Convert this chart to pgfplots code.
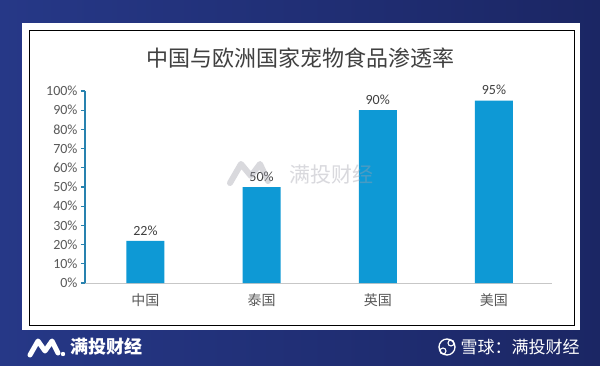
\documentclass[border=0pt]{standalone}
\usepackage{pgfplots}
\pgfplotsset{compat=1.18}
\usepackage{fontspec}
\setmainfont{Carlito}
\newfontfamily\cjk{Noto Sans CJK SC}
\definecolor{bgnavy}{RGB}{27,38,100}
\definecolor{bgnavyl}{RGB}{38,56,135}
\definecolor{barblue}{RGB}{14,153,213}
\definecolor{yaxblue}{RGB}{40,130,175}
\definecolor{txtgray}{RGB}{89,89,89}
\definecolor{wmgray}{RGB}{160,160,172}
\begin{document}
\begin{tikzpicture}[x=1pt,y=1pt]
\shade[left color=bgnavyl,right color=bgnavy] (0,0) rectangle (600,365);
\fill[white] (22,35) rectangle (580,342);
\draw[black,line width=0.8pt] (29,40) rectangle (574,335);
\node[font=\cjk\fontsize{22}{24}\selectfont,text=black!75] at (300,307) {中国与欧洲国家宠物食品渗透率};
\begin{axis}[
  at={(85pt,82pt)}, anchor=south west,
  scale only axis, width=467pt, height=192pt,
  ybar, bar width=38pt,
  ymin=0, ymax=1, xmin=-0.52, xmax=3.5,
  axis y line=left, axis x line=bottom,
  x axis line style={draw=black!22,-},
  y axis line style={draw=yaxblue,line width=1.5pt,-},
  ytick={0,0.1,0.2,0.3,0.4,0.5,0.6,0.7,0.8,0.9,1},
  yticklabels={0\%,10\%,20\%,30\%,40\%,50\%,60\%,70\%,80\%,90\%,100\%},
  yticklabel style={font=\fontsize{14}{15}\selectfont,text=txtgray},
  ytick style={draw=yaxblue,line width=1.2pt},
  major tick length=4pt, tick align=outside,
  xtick=data,
  xticklabels={中国,泰国,英国,美国},
  xticklabel style={font=\cjk\fontsize{14}{15}\selectfont,text=txtgray,yshift=-3pt},
  xtick style={draw=none},
  /pgf/number format/assume math mode=true,
  point meta={y*100},
  nodes near coords={\pgfmathprintnumber[fixed,precision=0]{\pgfplotspointmeta}\%},
  nodes near coords style={font=\fontsize{14}{15}\selectfont,text=black!75,yshift=2pt},
  clip=false,
]
\addplot[fill=barblue,draw=none] coordinates {(0,0.22) (1,0.50) (2,0.90) (3,0.95)};
\end{axis}
% watermark
\begin{scope}[opacity=0.4]
\draw[wmgray,line width=6pt,line cap=round,line join=round] (230,182)--(241,201)--(251,189)--(260,201)--(268,184);
\node[font=\cjk\fontsize{21}{23}\selectfont,text=wmgray] at (331,190) {满投财经};
\end{scope}
% footer
\draw[white,line width=5pt,line cap=round,line join=round] (30,10)--(38,24)--(45,14)--(52,24)--(58,12);
\fill[white] (63,11) circle (2.2pt);
\node[font=\cjk\bfseries\fontsize{18}{20}\selectfont,text=white,anchor=west] at (67,18) {满投财经};
\draw[white,line width=1.3pt] (447,18) circle (8pt);
\draw[white,line width=1.1pt] (443,14) circle (3pt) (451,22) circle (3pt);
\node[font=\cjk\fontsize{17}{19}\selectfont,text=white,anchor=west] at (457,18) {雪球：满投财经};
\end{tikzpicture}
\end{document}
